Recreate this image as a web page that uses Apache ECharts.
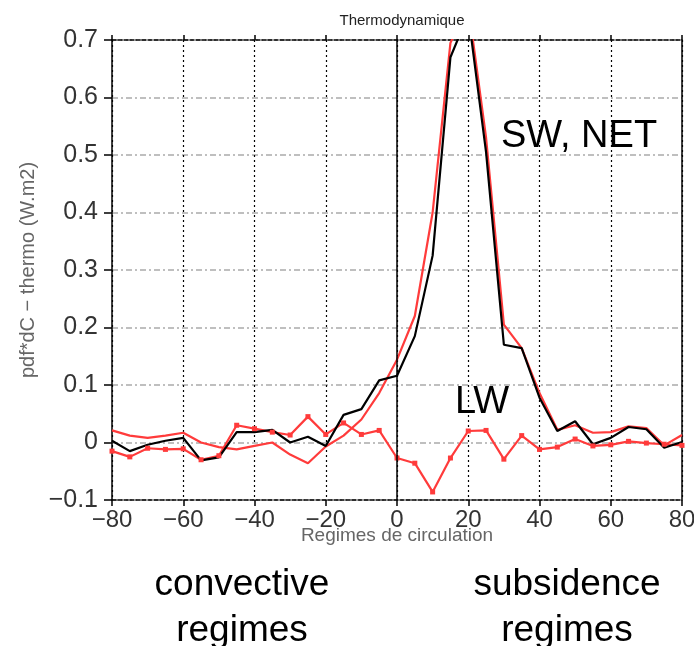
<!DOCTYPE html>
<html lang="fr">
<head>
<meta charset="utf-8">
<title>Thermodynamique</title>
<style>
	html, body { margin: 0; padding: 0; background: #fff; }
	#chart { width: 694px; height: 646px; }
</style>
</head>
<body>
<div id="chart"></div>
<script src="https://cdn.jsdelivr.net/npm/echarts@6/dist/echarts.min.js"></script>
<script>

// regimes de circulation (abscisse)
var xValues = [-80, -75, -70, -65, -60, -55, -50, -45, -40, -35, -30, -25, -20, -15, -10, -5,
	0, 5, 10, 15, 20, 25, 30, 35, 40, 45, 50, 55, 60, 65, 70, 75, 80];

// SW : courbe rouge sans marqueurs
var swValues = [0.021, 0.012, 0.008, 0.012, 0.017, 0.000, -0.008, -0.012, -0.006, 0.000, -0.021, -0.036, -0.007, 0.012, 0.040, 0.086,
	0.144, 0.220, 0.400, 0.695, 0.760, 0.530, 0.205, 0.164, 0.086, 0.022, 0.030, 0.017, 0.018, 0.028, 0.025, -0.005, 0.013];

// LW : courbe rouge avec marqueurs
var lwValues = [-0.015, -0.025, -0.010, -0.012, -0.011, -0.030, -0.023, 0.030, 0.024, 0.018, 0.013, 0.045, 0.014, 0.034, 0.014, 0.021,
	-0.027, -0.036, -0.086, -0.027, 0.020, 0.021, -0.029, 0.012, -0.012, -0.008, 0.006, -0.006, -0.004, 0.002, -0.001, -0.003, -0.005];

// NET : courbe noire
var netValues = [0.003, -0.015, -0.004, 0.003, 0.008, -0.031, -0.026, 0.018, 0.018, 0.022, 0.000, 0.010, -0.006, 0.048, 0.058, 0.108,
	0.116, 0.185, 0.325, 0.670, 0.745, 0.505, 0.170, 0.164, 0.078, 0.020, 0.037, -0.003, 0.008, 0.027, 0.023, -0.009, 0.001];

var RED = '#ff3b3b';
var FONT = 'Liberation Sans, Arial, sans-serif';

function pairs(ys) {
	var out = [];
	for (var i = 0; i < xValues.length; i++) {
		out.push([xValues[i], ys[i]]);
	}
	return out;
}

function minus(v) {
	return String(v).replace('-', '\u2212');
}

// texte libre centré sur x
function note(text, x, y, size) {
	return {
		type: 'text', x: x, y: y, silent: true,
		style: {text: text, font: size + 'px ' + FONT, fill: '#000', align: 'center', verticalAlign: 'top', lineHeight: size * 1.24}
	};
}

var chart = echarts.init(document.getElementById('chart'), null, {renderer: 'canvas'});

var option = {
	backgroundColor: '#fff',
	animation: false,
	title: {
		text: 'Thermodynamique',
		left: 397,
		textAlign: 'center',
		top: 8,
		textStyle: {fontFamily: FONT, fontSize: 15, fontWeight: 'normal', color: '#222'}
	},
	grid: {left: 112, right: 12, top: 40, bottom: 146, outerBoundsMode: 'none'},
	xAxis: [
		{
			type: 'value', min: -80, max: 80, interval: 20,
			position: 'bottom',
			name: 'Regimes de circulation',
			nameLocation: 'middle',
			nameGap: 26,
			nameMoveOverlap: false,
			nameTextStyle: {fontFamily: FONT, fontSize: 19, color: '#666', verticalAlign: 'top'},
			axisLine: {onZero: false, lineStyle: {color: '#000', width: 1.5, type: [4, 2]}},
			axisTick: {show: true, length: 6, lineStyle: {color: '#000', width: 1.5}},
			axisLabel: {fontFamily: FONT, fontSize: 24, color: '#333', margin: 8, formatter: minus},
			splitLine: {show: true, lineStyle: {color: '#000', width: 1.2, type: [2, 3]}}
		},
		{
			type: 'value', min: -80, max: 80, interval: 20,
			position: 'top',
			axisLine: {onZero: false, lineStyle: {color: '#000', width: 1.5, type: [4, 2]}},
			axisTick: {show: true, length: 5, lineStyle: {color: '#000', width: 1.5}},
			axisLabel: {show: false},
			splitLine: {show: false}
		}
	],
	yAxis: [
		{
			type: 'value', min: -0.1, max: 0.7, interval: 0.1,
			position: 'left',
			name: 'pdf*dC \u2212 thermo (W.m2)',
			nameLocation: 'middle',
			nameGap: 74,
			nameMoveOverlap: false,
			nameTextStyle: {fontFamily: FONT, fontSize: 20, color: '#666'},
			axisLine: {onZero: false, lineStyle: {color: '#000', width: 1.5}},
			axisTick: {show: true, length: 8, lineStyle: {color: '#000', width: 1.5}},
			axisLabel: {fontFamily: FONT, fontSize: 25, color: '#333', margin: 14,
				formatter: function (v) { return minus(Math.round(v * 10) / 10); }},
			splitLine: {show: true, lineStyle: {color: '#aaa', width: 1.5, type: [6, 3, 2, 3]}}
		},
		{
			type: 'value', min: -0.1, max: 0.7, interval: 0.1,
			position: 'right',
			axisLine: {onZero: false, lineStyle: {color: '#000', width: 1.5}},
			axisTick: {show: false},
			axisLabel: {show: false},
			splitLine: {show: false}
		}
	],
	series: [
		{
			name: 'SW',
			type: 'line',
			data: pairs(swValues),
			showSymbol: false,
			symbol: 'none',
			lineStyle: {color: RED, width: 2.2},
			markLine: {
				silent: true,
				symbol: ['none', 'none'],
				label: {show: false},
				lineStyle: {color: '#000', type: 'solid', width: 1.5},
				data: [{xAxis: 0}]
			}
		},
		{
			name: 'LW',
			type: 'line',
			data: pairs(lwValues),
			symbol: 'rect',
			symbolSize: 5,
			itemStyle: {color: RED},
			lineStyle: {color: RED, width: 2.2}
		},
		{
			name: 'NET',
			type: 'line',
			data: pairs(netValues),
			symbol: 'none',
			lineStyle: {color: '#000', width: 2.2}
		}
	],
	graphic: [
		note('SW, NET', 579, 113, 38),
		note('LW', 482, 379, 38),
		note('convective\nregimes', 242, 562, 37),
		note('subsidence\nregimes', 567, 562, 37)
	]
};

chart.setOption(option);

</script>
</body>
</html>
